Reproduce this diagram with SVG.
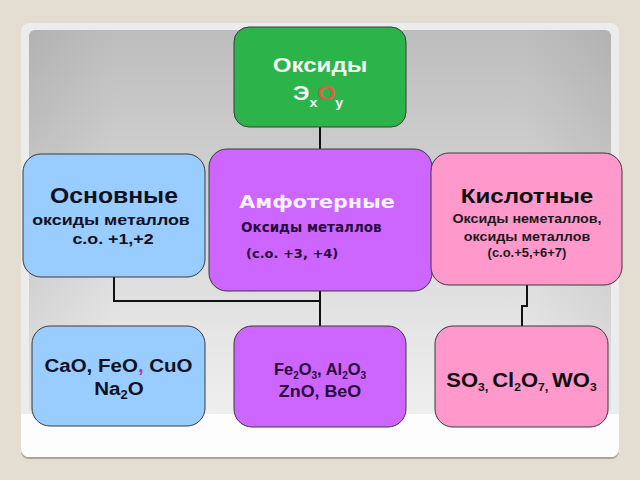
<svg xmlns="http://www.w3.org/2000/svg" width="640" height="480" viewBox="0 0 640 480">
<defs>
<linearGradient id="panel" x1="0" y1="0" x2="0" y2="1">
<stop offset="0" stop-color="#bdbdbd"/>
<stop offset="0.5" stop-color="#d6d6d6"/>
<stop offset="0.8" stop-color="#e6e6e6"/>
<stop offset="1" stop-color="#efefef"/>
</linearGradient>
<linearGradient id="side" x1="0" y1="0" x2="1" y2="0">
<stop offset="0" stop-color="#000" stop-opacity="0.06"/>
<stop offset="0.15" stop-color="#000" stop-opacity="0"/>
<stop offset="0.85" stop-color="#000" stop-opacity="0"/>
<stop offset="1" stop-color="#000" stop-opacity="0.06"/>
</linearGradient>
<style>
.node{stroke:#3a3a3a;stroke-width:1}
.g{fill:#2cb34a}.b{fill:#99ccff}.p{fill:#cc66ff}.k{fill:#ff99cc}
.ar{font-family:"Liberation Sans",Arial,sans-serif;font-weight:bold}
.dv{font-family:"DejaVu Sans",sans-serif;font-weight:bold}
.conn{fill:none;stroke:#111;stroke-width:2}
</style>
</defs>
<rect width="640" height="480" fill="#e3ddd2"/>
<rect x="21" y="25" width="598" height="434" rx="8" fill="#aaa396"/>
<rect x="21" y="23" width="598" height="434" rx="8" fill="#ececec"/>
<path d="M21 414 H619 V449 a8 8 0 0 1 -8 8 H29 a8 8 0 0 1 -8 -8 Z" fill="#fdfdfd"/>
<rect x="29" y="30" width="582" height="384" rx="6" fill="url(#panel)"/>
<rect x="29" y="30" width="582" height="384" rx="6" fill="url(#side)"/>

<g id="connectors">
<path class="conn" d="M320 127 V149"/>
<path class="conn" d="M114 277 V301 H320"/>
<path class="conn" d="M320 291 V326"/>
<path class="conn" d="M527 285 V306 H522 V326"/>
</g>

<g id="oksidy">
<rect class="node g" x="234" y="27" width="172" height="100" rx="15"/>
<text class="ar" font-size="21" fill="#f4f4f4" text-anchor="middle" transform="translate(320,72) scale(1.15,1)">Оксиды</text>
<text class="ar" font-size="21" fill="#f4f4f4" transform="translate(293,100) scale(1.1,1)">Э<tspan font-size="13" dy="7">х</tspan><tspan fill="#e05a46" dy="-7">О</tspan><tspan font-size="13" dy="7">у</tspan></text>
</g>

<g id="osnovnye">
<rect class="node b" x="23" y="154" width="182" height="123" rx="18"/>
<text class="ar" font-size="21.5" fill="#111122" text-anchor="middle" transform="translate(114,203) scale(1.15,1)">Основные</text>
<text class="ar" font-size="15.5" fill="#111122" text-anchor="middle" transform="translate(111,225) scale(1.15,1)">оксиды металлов</text>
<text class="ar" font-size="15.5" fill="#111122" text-anchor="middle" transform="translate(113,244) scale(1.15,1)">с.о. +1,+2</text>
</g>

<g id="amfoternye">
<rect class="node p" x="209" y="149" width="223" height="142" rx="18"/>
<text class="dv" font-size="18" fill="#f6f0ff" text-anchor="middle" transform="translate(317,208) scale(1.15,1)">Амфотерные</text>
<text class="dv" font-size="13.5" fill="#2a0a3a" transform="translate(241,232)">Оксиды металлов</text>
<text class="dv" font-size="13" fill="#2a0a3a" transform="translate(246,258)">(с.о. +3, +4)</text>
</g>

<g id="kislotnye">
<rect class="node k" x="431" y="153" width="191" height="132" rx="18"/>
<text class="ar" font-size="21" fill="#111111" text-anchor="middle" transform="translate(527,203) scale(1.15,1)">Кислотные</text>
<text class="ar" font-size="13" fill="#1a1a1a" text-anchor="middle" transform="translate(527,223) scale(1.1,1)">Оксиды неметаллов,</text>
<text class="ar" font-size="13" fill="#1a1a1a" text-anchor="middle" transform="translate(527,241) scale(1.1,1)">оксиды металлов</text>
<text class="ar" font-size="12" fill="#1a1a1a" text-anchor="middle" transform="translate(527,257) scale(1.08,1)">(с.о.+5,+6+7)</text>
</g>

<g id="osn-examples">
<rect class="node b" x="32" y="326" width="173" height="100" rx="18"/>
<text class="ar" font-size="19" fill="#111122" text-anchor="middle" transform="translate(118.5,372) scale(1.08,1)">CaO, FeO<tspan fill="#b030c0">,</tspan> CuO</text>
<text class="ar" font-size="19" fill="#111122" text-anchor="middle" transform="translate(119,395) scale(1.08,1)">Na<tspan font-size="12" dy="4">2</tspan><tspan dy="-4">O</tspan></text>
</g>

<g id="amf-examples">
<rect class="node p" x="234" y="326" width="172" height="101" rx="18"/>
<text class="ar" font-size="16.5" fill="#2a0838" text-anchor="middle" transform="translate(320,375)">Fe<tspan font-size="10" dy="4">2</tspan><tspan dy="-4">O</tspan><tspan font-size="10" dy="4">3</tspan><tspan dy="-4">, Al</tspan><tspan font-size="10" dy="4">2</tspan><tspan dy="-4">O</tspan><tspan font-size="10" dy="4">3</tspan></text>
<text class="ar" font-size="17" fill="#2a0838" text-anchor="middle" transform="translate(320,397) scale(1.05,1)">ZnO, BeO</text>
</g>

<g id="kisl-examples">
<rect class="node k" x="435" y="326" width="173" height="101" rx="18"/>
<text class="ar" font-size="20" fill="#111111" text-anchor="middle" transform="translate(521.5,387) scale(1.1,1)">SO<tspan font-size="11" dy="4">3</tspan><tspan font-size="12">, </tspan><tspan dy="-4">Cl</tspan><tspan font-size="11" dy="4">2</tspan><tspan dy="-4">O</tspan><tspan font-size="11" dy="4">7</tspan><tspan font-size="12">, </tspan><tspan dy="-4">WO</tspan><tspan font-size="11" dy="4">3</tspan></text>
</g>
</svg>
